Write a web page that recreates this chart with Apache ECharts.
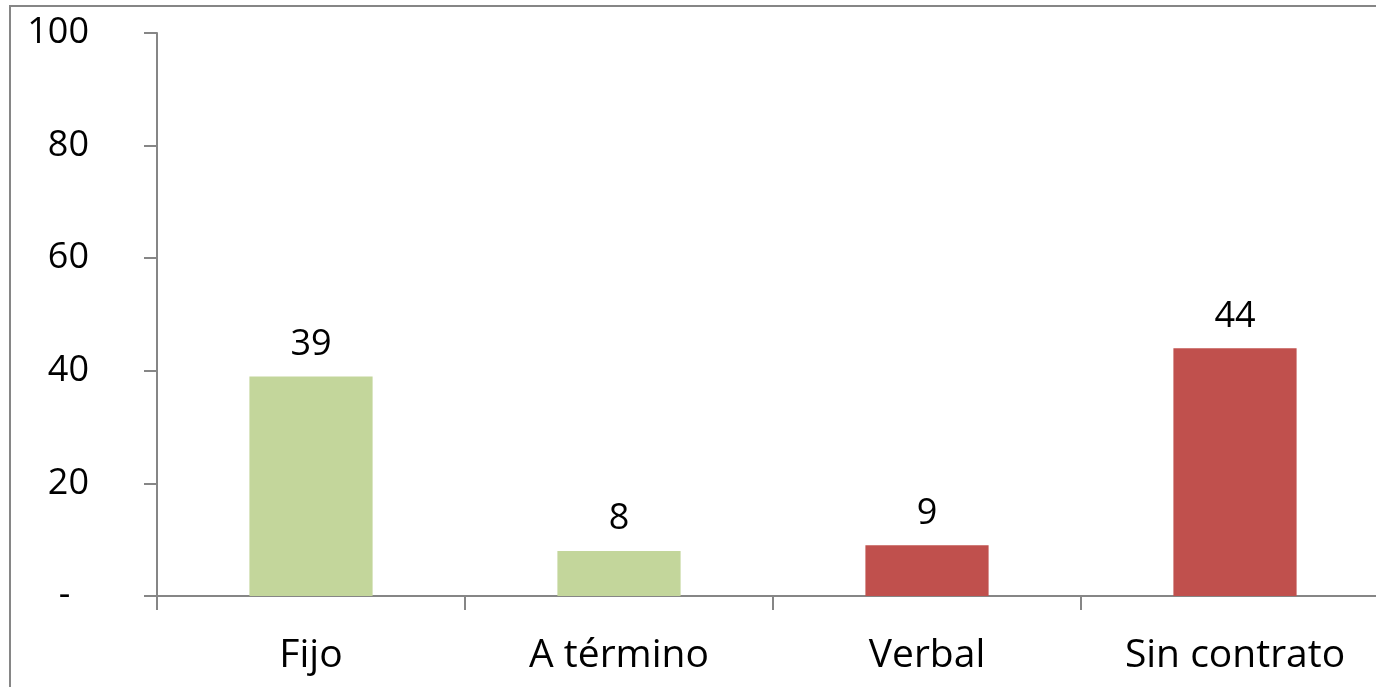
<!DOCTYPE html>
<html>
<head>
  <meta charset="utf-8">
</head>
<body style="margin: 0; width: 1376px; height: 687px; background: #fff;">
  <div id="container" style="width: 1376px; height: 687px;"></div>
  <script src="https://cdn.jsdelivr.net/npm/echarts@6/dist/echarts.min.js"></script>
  <script>
    // datos del gráfico
    var categorias = ['Fijo', 'A término', 'Verbal', 'Sin contrato'];
    var valores = [39, 8, 9, 44];
    var colores = ['#C3D69B', '#C3D69B', '#C0504D', '#C0504D'];

    var chart = echarts.init(document.getElementById('container'), null, { renderer: 'canvas' });
    var fuente = '"Open Sans", sans-serif';

    var option = {
      animation: false,
      backgroundColor: '#fff',
      graphic: [{
        type: 'rect',
        shape: { x: 10, y: 6, width: 1400, height: 720 },
        style: { fill: 'none', stroke: '#868686', lineWidth: 2 },
        silent: true
      }],
      // el eje x sigue más allá del borde derecho
      grid: { left: 157, top: 33, width: 1232, height: 563, containLabel: false, outerBoundsMode: 'none' },
      xAxis: {
        type: 'category',
        data: categorias,
        axisLine: { lineStyle: { color: '#868686', width: 2 } },
        axisTick: { show: true, length: 14, alignWithLabel: false, lineStyle: { color: '#868686', width: 2 } },
        axisLabel: { color: '#000', fontSize: 39, fontFamily: fuente, margin: 40 }
      },
      yAxis: {
        type: 'value',
        min: 0,
        max: 100,
        interval: 20,
        axisLine: { show: true, lineStyle: { color: '#868686', width: 2 } },
        axisTick: { show: true, length: 13, lineStyle: { color: '#868686', width: 2 } },
        splitLine: { show: false },
        axisLabel: {
          color: '#000', fontSize: 36, fontFamily: fuente, margin: 68,
          formatter: function (v) { return v === 0 ? '-  ' : v; }
        }
      },
      series: [{
        type: 'bar',
        barWidth: '40%',
        data: valores.map(function (v, i) {
          return { value: v, itemStyle: { color: colores[i] } };
        }),
        label: {
          show: true,
          position: 'top',
          distance: 14,
          color: '#000',
          fontSize: 36,
          fontFamily: fuente
        }
      }]
    };

    chart.setOption(option);
  </script>
</body>
</html>
